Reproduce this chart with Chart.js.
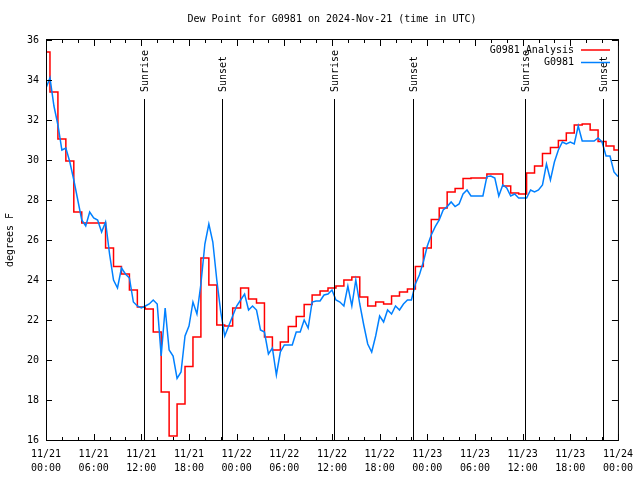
<!DOCTYPE html>
<html>
<head>
<meta charset="utf-8">
<script src="https://cdn.jsdelivr.net/npm/chart.js@4.4.1/dist/chart.umd.min.js"></script>
<style>
  body { margin: 0; background: #fff; }
  canvas { display: block; }
</style>
</head>
<body>
<canvas id="dewChart" width="640" height="480"></canvas>
<script>
// hours since 2024-11-21 00:00 UTC
const obsStep = 0.5;
// G0981 observations, every half hour
const obsValues = [
    33.6, 34.1, 32.7, 31.75, 30.5, 30.6, 29.9, 29.0, 28.0, 27.0,
    26.7, 27.4, 27.1, 27.0, 26.4, 26.9, 25.3, 24.0, 23.6, 24.6,
    24.3, 24.1, 22.9, 22.7, 22.6, 22.7, 22.8, 23.0, 22.8, 20.2,
    22.6, 20.5, 20.2, 19.08, 19.4, 21.2, 21.7, 22.9, 22.3, 23.8,
    25.8, 26.8, 25.9, 24.0, 22.4, 21.2, 21.7, 22.2, 22.7, 23.0,
    23.3, 22.5, 22.7, 22.5, 21.5, 21.4, 20.3, 20.6, 19.25, 20.4,
    20.75, 20.75, 20.75, 21.4, 21.4, 22.0, 21.6, 22.9, 22.95, 22.95,
    23.25, 23.3, 23.5, 23.0, 22.9, 22.7, 23.7, 22.7, 24.0, 22.8,
    21.75, 20.8, 20.4, 21.2, 22.2, 21.9, 22.5, 22.3, 22.7, 22.5,
    22.8, 23.0, 23.0, 23.8, 24.25, 24.9, 25.7, 26.25, 26.67, 27.0,
    27.5, 27.67, 27.9, 27.67, 27.8, 28.3, 28.5, 28.2, 28.2, 28.2,
    28.2, 29.17, 29.2, 29.1, 28.2, 28.75, 28.6, 28.2, 28.3, 28.1,
    28.1, 28.1, 28.5, 28.4, 28.5, 28.75, 29.8, 29.0, 29.9, 30.5,
    30.9, 30.8, 30.9, 30.8, 31.7, 30.95, 30.95, 30.95, 30.95, 31.1,
    30.9, 30.2, 30.2, 29.4, 29.17
];
// G0981 Analysis, hourly
const analysisValues = [
    35.4, 33.4, 31.05, 29.95, 27.4, 26.85, 26.85, 26.85, 25.6, 24.67,
    24.3, 23.5, 22.65, 22.55, 21.4, 18.4, 16.2, 17.8, 19.67, 21.15,
    25.1, 23.75, 21.75, 21.7, 22.6, 23.6, 23.05, 22.85, 21.15, 20.5,
    20.9, 21.67, 22.17, 22.78, 23.25, 23.45, 23.6, 23.7, 24.0, 24.15,
    23.15, 22.7, 22.9, 22.8, 23.2, 23.4, 23.55, 24.67, 25.6, 27.03,
    27.6, 28.4, 28.57, 29.08, 29.1, 29.1, 29.3, 29.3, 28.7, 28.35,
    28.3, 29.35, 29.7, 30.33, 30.63, 30.97, 31.35, 31.75, 31.8, 31.5,
    30.92, 30.7, 30.5
];
const sunTimes = [12.3, 22.2, 36.23, 46.22, 60.25, 70.17];
const sunLabels = ['Sunrise', 'Sunset', 'Sunrise', 'Sunset', 'Sunrise', 'Sunset'];
const tickLabels = [
    ['11/21', '00:00'], ['11/21', '06:00'], ['11/21', '12:00'], ['11/21', '18:00'],
    ['11/22', '00:00'], ['11/22', '06:00'], ['11/22', '12:00'], ['11/22', '18:00'],
    ['11/23', '00:00'], ['11/23', '06:00'], ['11/23', '12:00'], ['11/23', '18:00'],
    ['11/24', '00:00']
];

const FONT = 'DejaVu Sans Mono';

const obsData = obsValues.map((v, i) => ({ x: i * obsStep, y: v }));
const analysisData = analysisValues.map((v, i) => ({ x: i, y: v }));

// gnuplot style frame, inward ticks, sun lines, title and legend
const gnuplotBits = {
    id: 'gnuplotBits',
    afterDatasetsDraw(chart) {
        const { ctx, chartArea: a, scales: { x, y } } = chart;
        ctx.save();
        ctx.strokeStyle = '#000';
        ctx.lineWidth = 1;

        // sunrise / sunset markers
        const lineTop = y.getPixelForValue(33.05);
        ctx.font = '10px ' + FONT;
        ctx.fillStyle = '#000';
        sunTimes.forEach((t, i) => {
            const px = Math.round(x.getPixelForValue(t)) + 0.5;
            ctx.beginPath();
            ctx.moveTo(px, lineTop);
            ctx.lineTo(px, a.bottom);
            ctx.stroke();
            ctx.save();
            ctx.translate(px + 1, lineTop - 7);
            ctx.rotate(-Math.PI / 2);
            ctx.textAlign = 'left';
            ctx.textBaseline = 'middle';
            ctx.fillText(sunLabels[i], 0, 0);
            ctx.restore();
        });

        // frame
        ctx.strokeRect(a.left + 0.5, a.top - 0.5, a.right - a.left, a.bottom - a.top + 1);

        // x ticks (major every 6h, minor every 2h), bottom and top
        ctx.beginPath();
        for (let h = 0; h <= 72; h += 2) {
            const px = Math.round(x.getPixelForValue(h)) + 0.5;
            const len = h % 6 === 0 ? 6 : 3;
            ctx.moveTo(px, a.bottom);
            ctx.lineTo(px, a.bottom - len);
            ctx.moveTo(px, a.top);
            ctx.lineTo(px, a.top + len);
        }
        // y ticks, left and right
        for (let v = 16; v <= 36; v += 2) {
            const py = Math.round(y.getPixelForValue(v)) + 0.5;
            ctx.moveTo(a.left, py);
            ctx.lineTo(a.left + 6, py);
            ctx.moveTo(a.right, py);
            ctx.lineTo(a.right - 6, py);
        }
        ctx.stroke();

        // title
        ctx.font = '10px ' + FONT;
        ctx.textAlign = 'center';
        ctx.textBaseline = 'middle';
        ctx.fillText('Dew Point for G0981 on 2024-Nov-21 (time in UTC)', 332, 19);

        // legend
        const sets = [chart.data.datasets[1], chart.data.datasets[0]];
        ctx.textAlign = 'right';
        sets.forEach((ds, i) => {
            const ly = 50 + i * 12.5;
            ctx.fillStyle = '#000';
            ctx.fillText(ds.label, 574, ly);
            ctx.strokeStyle = ds.borderColor;
            ctx.lineWidth = 1.5;
            ctx.beginPath();
            ctx.moveTo(581, ly);
            ctx.lineTo(610, ly);
            ctx.stroke();
        });
        ctx.restore();
    }
};

const ctx = document.getElementById('dewChart').getContext('2d');

new Chart(ctx, {
    type: 'line',
    data: {
        datasets: [
            {
                label: 'G0981',
                data: obsData,
                borderColor: 'rgb(0, 128, 255)',
                borderWidth: 1.5,
                pointRadius: 0,
                tension: 0,
                fill: false,
                order: 1
            },
            {
                label: 'G0981 Analysis',
                data: analysisData,
                borderColor: 'rgb(255, 0, 0)',
                borderWidth: 1.5,
                pointRadius: 0,
                stepped: 'middle',
                fill: false,
                order: 2
            }
        ]
    },
    options: {
        responsive: false,
        animation: false,
        layout: {
            padding: { top: 40, right: 19, left: 0, bottom: 0 }
        },
        plugins: {
            legend: { display: false },
            tooltip: { enabled: false }
        },
        scales: {
            x: {
                type: 'linear',
                min: 0,
                max: 72,
                afterFit: scale => { scale.height = 40; },
                grid: { display: false, drawTicks: false },
                border: { display: false },
                ticks: {
                    stepSize: 6,
                    autoSkip: false,
                    maxRotation: 0,
                    padding: 7,
                    color: '#000',
                    font: { family: FONT, size: 10, lineHeight: 1.4 },
                    callback: value => tickLabels[Math.round(value / 6)]
                }
            },
            y: {
                min: 16,
                max: 36,
                afterFit: scale => { scale.width = 46; },
                grid: { display: false, drawTicks: false },
                border: { display: false },
                title: {
                    display: true,
                    text: 'degrees F',
                    color: '#000',
                    font: { family: FONT, size: 10 },
                    padding: 4
                },
                ticks: {
                    stepSize: 2,
                    padding: 7,
                    color: '#000',
                    font: { family: FONT, size: 10 }
                }
            }
        }
    },
    plugins: [gnuplotBits]
});
</script>
</body>
</html>
